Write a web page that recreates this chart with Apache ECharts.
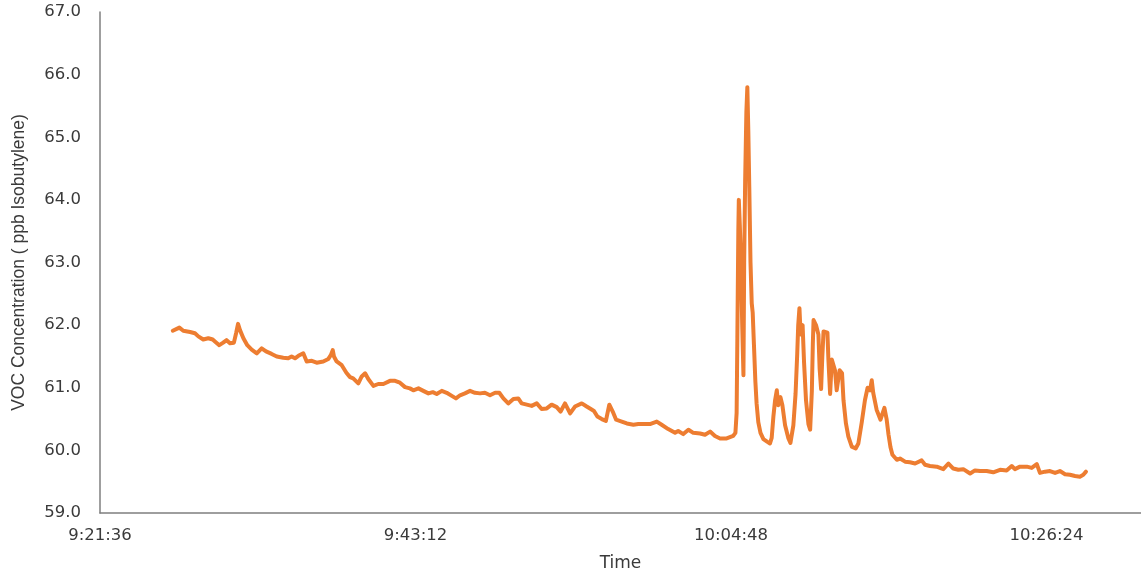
<!DOCTYPE html>
<html>
<head>
<meta charset="utf-8">
<title>VOC Concentration</title>
<script src="https://cdn.jsdelivr.net/npm/echarts@6/dist/echarts.min.js"></script>
<style>
  html, body { margin: 0; padding: 0; background: #ffffff; }
  #chart { width: 1141px; height: 573px; }
</style>
</head>
<body>
<div id="chart"></div>
<script>
// Logger readings: clock time and VOC concentration (ppb isobutylene)
const times = [
  '9:26:35','9:27:02','9:27:18','9:27:46','9:28:06','9:28:20','9:28:40','9:29:01','9:29:19','9:29:28',
  '9:29:46','9:30:02','9:30:16','9:30:30','9:30:46','9:30:55','9:31:03','9:31:11','9:31:25','9:31:41',
  '9:31:59','9:32:20','9:32:40','9:32:58','9:33:21','9:33:42','9:34:09','9:34:29','9:34:43','9:34:57',
  '9:35:11','9:35:17','9:35:31','9:35:45','9:36:06','9:36:26','9:36:53','9:37:14','9:37:24','9:37:32',
  '9:37:37','9:37:48','9:38:09','9:38:28','9:38:43','9:38:56','9:39:17','9:39:31','9:39:45','9:39:58',
  '9:40:19','9:40:39','9:41:00','9:41:27','9:41:48','9:42:08','9:42:29','9:42:49','9:43:03','9:43:24',
  '9:43:44','9:44:05','9:44:23','9:44:39','9:45:00','9:45:20','9:45:41','9:45:58','9:46:15','9:46:35',
  '9:46:56','9:47:16','9:47:37','9:47:57','9:48:18','9:48:39','9:48:56','9:49:13','9:49:33','9:49:54',
  '9:50:14','9:50:28','9:50:49','9:51:09','9:51:30','9:51:50','9:52:11','9:52:31','9:52:52','9:53:08',
  '9:53:26','9:53:47','9:54:07','9:54:35','9:54:55','9:55:12','9:55:25','9:55:39','9:55:57','9:56:14',
  '9:56:28','9:56:42','9:56:56','9:57:19','9:57:40','9:58:07','9:58:27','9:58:55','9:59:15','9:59:43',
  '10:00:03','10:00:30','10:00:58','10:01:11','10:01:32','10:01:53','10:02:13','10:02:41','10:03:01','10:03:22',
  '10:03:42','10:04:03','10:04:30','10:04:57','10:05:06','10:05:11','10:05:14','10:05:18','10:05:20','10:05:24',
  '10:05:29','10:05:34','10:05:39','10:05:42','10:05:46','10:05:51','10:05:55','10:05:59','10:06:03','10:06:08',
  '10:06:13','10:06:17','10:06:22','10:06:28','10:06:33','10:06:40','10:06:49','10:07:01','10:07:16','10:07:28',
  '10:07:35','10:07:42','10:07:49','10:07:56','10:08:02','10:08:11','10:08:19','10:08:30','10:08:43','10:08:52',
  '10:09:04','10:09:13','10:09:20','10:09:24','10:09:29','10:09:34','10:09:42','10:09:48','10:09:56','10:10:06',
  '10:10:13','10:10:20','10:10:24','10:10:27','10:10:37','10:10:47','10:10:52','10:10:58','10:11:03','10:11:08',
  '10:11:16','10:11:24','10:11:28','10:11:35','10:11:42','10:11:48','10:11:55','10:12:02','10:12:14','10:12:24',
  '10:12:30','10:12:40','10:12:50','10:13:04','10:13:20','10:13:31','10:13:45','10:13:58','10:14:09','10:14:19',
  '10:14:26','10:14:32','10:14:46','10:15:02','10:15:18','10:15:27','10:15:35','10:15:43','10:15:51','10:16:09',
  '10:16:22','10:16:43','10:17:03','10:17:24','10:17:51','10:18:05','10:18:25','10:18:53','10:19:20','10:19:41',
  '10:20:01','10:20:22','10:20:42','10:21:10','10:21:30','10:21:51','10:22:18','10:22:45','10:23:13','10:23:40',
  '10:24:01','10:24:14','10:24:35','10:25:03','10:25:23','10:25:44','10:25:57','10:26:18','10:26:38','10:26:59',
  '10:27:19','10:27:40','10:28:00','10:28:21','10:28:41','10:28:55','10:29:06'
];

const voc = [
  61.91,61.96,61.91,61.89,61.87,61.82,61.77,61.79,61.77,61.74,
  61.68,61.72,61.76,61.71,61.72,61.87,62.02,61.92,61.79,61.68,
  61.61,61.55,61.63,61.58,61.54,61.50,61.48,61.47,61.50,61.47,
  61.51,61.49,61.55,61.42,61.43,61.40,61.42,61.46,61.52,61.60,
  61.50,61.42,61.36,61.24,61.17,61.15,61.07,61.18,61.23,61.14,
  61.03,61.06,61.06,61.11,61.11,61.08,61.01,60.99,60.96,60.99,
  60.95,60.91,60.93,60.90,60.95,60.92,60.87,60.83,60.88,60.91,
  60.95,60.92,60.91,60.92,60.88,60.92,60.92,60.83,60.75,60.82,
  60.83,60.75,60.73,60.71,60.75,60.66,60.67,60.73,60.69,60.62,
  60.75,60.59,60.70,60.75,60.70,60.66,60.63,60.54,60.50,60.47,
  60.73,60.62,60.49,60.46,60.43,60.41,60.42,60.42,60.42,60.46,
  60.41,60.34,60.28,60.31,60.26,60.33,60.28,60.27,60.25,60.30,
  60.23,60.19,60.19,60.23,60.28,60.60,61.80,63.50,64.00,63.60,
  63.00,62.00,61.20,63.00,64.30,65.40,65.80,65.10,64.20,63.00,
  62.35,62.20,61.70,61.10,60.75,60.45,60.28,60.18,60.14,60.11,
  60.20,60.54,60.80,60.96,60.72,60.85,60.72,60.40,60.20,60.12,
  60.40,60.90,61.55,62.00,62.27,61.85,62.00,61.40,60.80,60.42,
  60.33,60.95,61.70,62.08,62.00,61.85,61.30,60.98,61.50,61.90,
  61.90,61.88,61.45,60.90,61.45,61.45,61.28,60.96,61.28,61.23,
  60.80,60.43,60.22,60.06,60.03,60.11,60.45,60.80,61.00,60.96,
  61.12,60.92,60.65,60.49,60.68,60.50,60.25,60.05,59.93,59.85,
  59.87,59.82,59.81,59.79,59.84,59.77,59.75,59.74,59.70,59.79,
  59.71,59.69,59.70,59.63,59.68,59.67,59.67,59.65,59.69,59.68,
  59.75,59.70,59.74,59.74,59.72,59.78,59.64,59.66,59.67,59.64,
  59.67,59.62,59.61,59.59,59.58,59.61,59.66
];

// Time axis: first tick and spacing between labelled ticks
const xTickStart = '9:21:36';
const xTickStep = '0:21:36';
const xAxisEnd = '10:32:52';

// Concentration axis range
const yMin = 59;
const yMax = 67;
const yStep = 1;

function toSeconds(s) {
  const p = s.split(':').map(Number);
  return p[0] * 3600 + p[1] * 60 + p[2];
}
function toClock(sec) {
  sec = Math.round(sec);
  const h = Math.floor(sec / 3600);
  const m = Math.floor((sec % 3600) / 60);
  const s = sec % 60;
  return h + ':' + String(m).padStart(2, '0') + ':' + String(s).padStart(2, '0');
}

const seriesData = times.map((t, i) => [toSeconds(t), voc[i]]);

const axisColor = '#7f7f7f';
const labelColor = '#3a3a3a';
const labelFont = 'DejaVu Sans, Verdana, sans-serif';

const chart = echarts.init(document.getElementById('chart'), null, { renderer: 'canvas' });
chart.setOption({
  animation: false,
  backgroundColor: '#ffffff',
  grid: { left: 100, right: 0, top: 12, bottom: 60, containLabel: false, outerBoundsMode: 'none' },
  xAxis: {
    type: 'value',
    min: toSeconds(xTickStart),
    max: toSeconds(xAxisEnd),
    interval: toSeconds(xTickStep),
    name: 'Time',
    nameLocation: 'middle',
    nameGap: 42,
    nameTextStyle: { color: labelColor, fontSize: 17, fontFamily: labelFont },
    axisLine: { show: true, lineStyle: { color: axisColor, width: 1.5 } },
    axisTick: { show: false },
    splitLine: { show: false },
    axisLabel: {
      color: labelColor,
      fontSize: 16.5,
      fontFamily: labelFont,
      margin: 14,
      showMaxLabel: false,
      formatter: v => toClock(v)
    }
  },
  yAxis: {
    type: 'value',
    min: yMin,
    max: yMax,
    interval: yStep,
    name: 'VOC Concentration ( ppb Isobutylene)',
    nameLocation: 'middle',
    nameRotate: 90,
    nameGap: 72,
    nameTextStyle: { color: labelColor, fontSize: 17.5, fontFamily: 'Liberation Sans, Arial, sans-serif' },
    axisLine: { show: true, lineStyle: { color: axisColor, width: 1.5 } },
    axisTick: { show: false },
    splitLine: { show: false },
    axisLabel: {
      color: labelColor,
      fontSize: 16.5,
      fontFamily: labelFont,
      margin: 19,
      formatter: v => v.toFixed(1)
    }
  },
  series: [{
    type: 'line',
    data: seriesData,
    showSymbol: false,
    smooth: false,
    lineStyle: { color: '#ED7D31', width: 4, join: 'round', cap: 'round' },
    itemStyle: { color: '#ED7D31' }
  }]
});
</script>
</body>
</html>
